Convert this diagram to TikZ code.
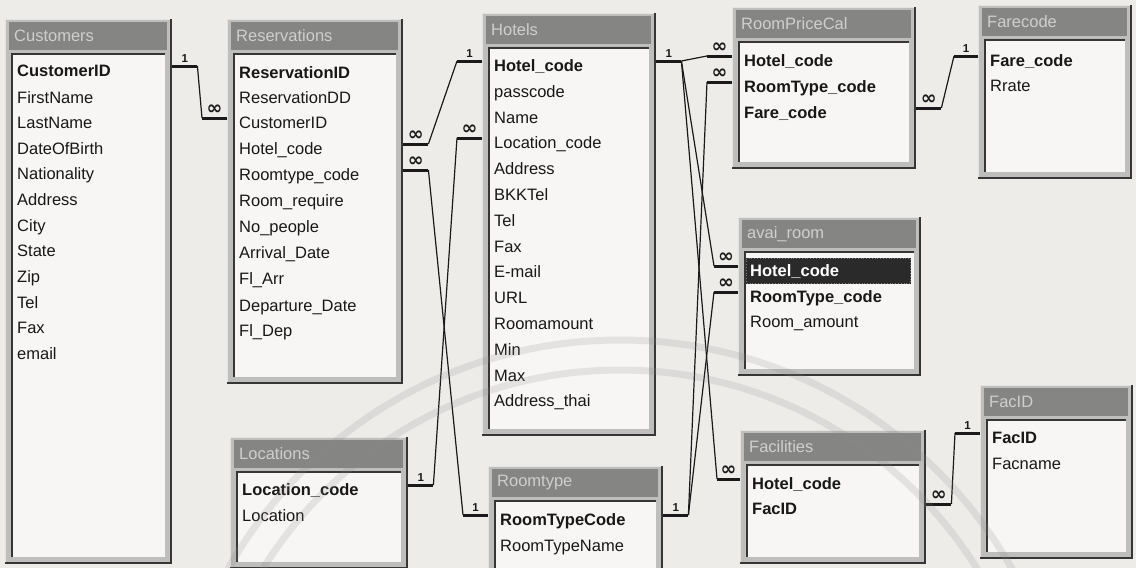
\documentclass[tikz,border=0pt]{standalone}
\usepackage{fontspec}
\setmainfont{Liberation Sans}
\newfontfamily\symfont{DejaVu Sans}
\usetikzlibrary{calc}
\definecolor{bg}{HTML}{EDECE9}
\definecolor{framegray}{HTML}{BEBEBC}
\definecolor{framedark}{HTML}{363636}
\definecolor{framelight}{HTML}{E4E4E2}
\definecolor{titlegray}{HTML}{858583}
\definecolor{ttltxt}{HTML}{CFCFCD}
\definecolor{cell}{HTML}{F7F6F4}
\definecolor{txt}{HTML}{181818}
\definecolor{linec}{HTML}{1A1A1A}
\definecolor{hilite}{HTML}{2A2A2A}
\definecolor{wmark}{HTML}{8C8C8C}
\tikzset{
  rowtext/.style={anchor=base west, inner sep=0pt, text=txt, font=\fontsize{16.5}{18}\selectfont},
  keytext/.style={anchor=base west, inner sep=0pt, text=txt, font=\fontsize{16.5}{18}\selectfont\bfseries},
  ttl/.style={anchor=west, inner sep=0pt, text=ttltxt, font=\fontsize{16.5}{18}\selectfont},
  stub/.style={draw=linec, line width=3pt},
  link/.style={draw=linec, line width=1.2pt},
  one/.style={midway, above=2pt, inner sep=0pt, text=linec, font=\fontsize{11.5}{11.5}\selectfont\bfseries},
  many/.style={midway, above=2pt, inner sep=0pt, text=linec, font=\symfont\fontsize{19}{19}\selectfont\bfseries},
  wm/.style={draw=wmark, line width=7pt, opacity=0.18},
}
% id, x1, y1, x2, y2, title
\newcommand{\dbtable}[6]{%
  \fill[framegray] (#2,#3) rectangle (#4,#5);
  \draw[framelight, line width=1pt] (#2+0.5,#5-2) -- (#2+0.5,#3+0.5) -- (#4-2,#3+0.5);
  \draw[framedark, line width=2.4pt] (#2,#5-1.2) -- (#4-1.2,#5-1.2) -- (#4-1.2,#3);
  \fill[titlegray] (#2+4,#3+3) rectangle (#4-5,#3+31);
  \node[ttl] (#1-title) at (#2+9,#3+17) {#6};
  \fill[cell] (#2+6,#3+34) rectangle (#4-7,#5-7);
  \draw[framedark, line width=1.5pt] (#2+6.75,#5-7) -- (#2+6.75,#3+34.75) -- (#4-7,#3+34.75);
  \node[inner sep=0pt, minimum width={(#4-#2)*1pt}, minimum height={(#5-#3)*1pt}, anchor=north west] (#1) at (#2,#3) {};
}
\begin{document}
\begin{tikzpicture}[x=1pt,y=-1pt]
\useasboundingbox (0,0) rectangle (1136,568);
\clip (0,0) rectangle (1136,568);
\fill[bg] (0,0) rectangle (1136,568);

% ---------- tables ----------
\dbtable{cust}{5}{19}{172}{564}{Customers}
\node[keytext]  (cust-1)  at (17,76)  {CustomerID};
\node[rowtext]  (cust-2)  at (17,103) {FirstName};
\node[rowtext]  (cust-3)  at (17,128) {LastName};
\node[rowtext]  (cust-4)  at (17,154) {DateOfBirth};
\node[rowtext]  (cust-5)  at (17,179) {Nationality};
\node[rowtext]  (cust-6)  at (17,205) {Address};
\node[rowtext]  (cust-7)  at (17,231) {City};
\node[rowtext]  (cust-8)  at (17,256) {State};
\node[rowtext]  (cust-9)  at (17,282) {Zip};
\node[rowtext]  (cust-10) at (17,308) {Tel};
\node[rowtext]  (cust-11) at (17,333) {Fax};
\node[rowtext]  (cust-12) at (17,359) {email};

\dbtable{res}{227}{19}{403}{384}{Reservations}
\node[keytext]  (res-1)  at (239,78)  {ReservationID};
\node[rowtext]  (res-2)  at (239,103) {ReservationDD};
\node[rowtext]  (res-3)  at (239,128) {CustomerID};
\node[rowtext]  (res-4)  at (239,154) {Hotel\_code};
\node[rowtext]  (res-5)  at (239,180) {Roomtype\_code};
\node[rowtext]  (res-6)  at (239,206) {Room\_require};
\node[rowtext]  (res-7)  at (239,232) {No\_people};
\node[rowtext]  (res-8)  at (239,258) {Arrival\_Date};
\node[rowtext]  (res-9)  at (239,284) {Fl\_Arr};
\node[rowtext]  (res-10) at (239,311) {Departure\_Date};
\node[rowtext]  (res-11) at (239,336) {Fl\_Dep};

\dbtable{hot}{482}{13}{656}{436}{Hotels}
\node[keytext]  (hot-1)  at (494,71)  {Hotel\_code};
\node[rowtext]  (hot-2)  at (494,97)  {passcode};
\node[rowtext]  (hot-3)  at (494,123) {Name};
\node[rowtext]  (hot-4)  at (494,148) {Location\_code};
\node[rowtext]  (hot-5)  at (494,174) {Address};
\node[rowtext]  (hot-6)  at (494,200) {BKKTel};
\node[rowtext]  (hot-7)  at (494,226) {Tel};
\node[rowtext]  (hot-8)  at (494,252) {Fax};
\node[rowtext]  (hot-9)  at (494,277) {E-mail};
\node[rowtext]  (hot-10) at (494,303) {URL};
\node[rowtext]  (hot-11) at (494,329) {Roomamount};
\node[rowtext]  (hot-12) at (494,355) {Min};
\node[rowtext]  (hot-13) at (494,381) {Max};
\node[rowtext]  (hot-14) at (494,406) {Address\_thai};

\dbtable{rpc}{732}{7}{916}{169}{RoomPriceCal}
\node[keytext]  (rpc-1) at (744,66)  {Hotel\_code};
\node[keytext]  (rpc-2) at (744,92)  {RoomType\_code};
\node[keytext]  (rpc-3) at (744,118) {Fare\_code};

\dbtable{fare}{978}{5}{1132}{179}{Farecode}
\node[keytext]  (fare-1) at (990,66) {Fare\_code};
\node[rowtext]  (fare-2) at (990,91) {Rrate};

\dbtable{avai}{738}{217}{921}{376}{avai\_room}
\fill[hilite] (746,258) rectangle (911,284);
\draw[gray, dotted, line width=0.8pt] (746.5,258.5) rectangle (910.5,283.5);
\node[keytext, text=white] (avai-1) at (750,276) {Hotel\_code};
\node[keytext]  (avai-2) at (750,302) {RoomType\_code};
\node[rowtext]  (avai-3) at (750,327) {Room\_amount};

\dbtable{loc}{230}{437}{408}{569}{Locations}
\node[keytext]  (loc-1) at (242,495) {Location\_code};
\node[rowtext]  (loc-2) at (242,521) {Location};

\dbtable{rt}{488}{466}{663}{580}{Roomtype}
\node[keytext]  (rt-1) at (500,525) {RoomTypeCode};
\node[rowtext]  (rt-2) at (500,551) {RoomTypeName};

\dbtable{fac}{740}{430}{926}{564}{Facilities}
\node[keytext]  (fac-1) at (752,489) {Hotel\_code};
\node[keytext]  (fac-2) at (752,514) {FacID};

\dbtable{facid}{980}{385}{1133}{559}{FacID}
\node[keytext]  (facid-1) at (992,443) {FacID};
\node[rowtext]  (facid-2) at (992,469) {Facname};

% ---------- attachment points ----------
\coordinate (custID)   at ($(cust.east |- cust-1.base)+(0,-10)$);
\coordinate (resCust)  at ($(res.west |- res-3.base)+(0,-10)$);
\coordinate (resHotel) at ($(res.east |- res-4.base)+(0,-10)$);
\coordinate (resRT)    at ($(res.east |- res-5.base)+(0,-10)$);
\coordinate (hotL)     at ($(hot.west |- hot-1.base)+(0,-10)$);
\coordinate (hotR)     at ($(hot.east |- hot-1.base)+(0,-10)$);
\coordinate (hotLoc)   at ($(hot.west |- hot-4.base)+(0,-10)$);
\coordinate (rpcHotel) at ($(rpc.west |- rpc-1.base)+(0,-10)$);
\coordinate (rpcRT)    at ($(rpc.west |- rpc-2.base)+(0,-10)$);
\coordinate (rpcFare)  at ($(rpc.east |- rpc-3.base)+(0,-10)$);
\coordinate (fareCode) at ($(fare.west |- fare-1.base)+(0,-10)$);
\coordinate (avaiHot)  at ($(avai.west |- avai-1.base)+(0,-10)$);
\coordinate (avaiRT)   at ($(avai.west |- avai-2.base)+(0,-10)$);
\coordinate (locCode)  at ($(loc.east |- loc-1.base)+(0,-10)$);
\coordinate (rtL)      at ($(rt.west |- rt-1.base)+(0,-10)$);
\coordinate (rtR)      at ($(rt.east |- rt-1.base)+(0,-10)$);
\coordinate (facHot)   at ($(fac.west |- fac-1.base)+(0,-10)$);
\coordinate (facFac)   at ($(fac.east |- fac-2.base)+(0,-10)$);
\coordinate (facidID)  at ($(facid.west |- facid-1.base)+(0,-10)$);

% ---------- stubs with cardinality ----------
\draw[stub] (custID)   -- node[one]{1}    ++(25,0)  coordinate (custIDs);
\draw[stub] (resCust)  -- node[many]{∞}   ++(-25,0) coordinate (resCusts);
\draw[stub] (resHotel) -- node[many]{∞}   ++(25,0)  coordinate (resHotels);
\draw[stub] (resRT)    -- node[many]{∞}   ++(25,0)  coordinate (resRTs);
\draw[stub] (hotL)     -- node[one]{1}    ++(-25,0) coordinate (hotLs);
\draw[stub] (hotR)     -- node[one]{1}    ++(25,0)  coordinate (hotRs);
\draw[stub] (hotLoc)   -- node[many]{∞}   ++(-25,0) coordinate (hotLocs);
\draw[stub] (rpcHotel) -- node[many]{∞}   ++(-25,0) coordinate (rpcHotels);
\draw[stub] (rpcRT)    -- node[many]{∞}   ++(-25,0) coordinate (rpcRTs);
\draw[stub] (rpcFare)  -- node[many]{∞}   ++(25,0)  coordinate (rpcFares);
\draw[stub] (fareCode) -- node[one]{1}    ++(-24,0) coordinate (fareCodes);
\draw[stub] (avaiHot)  -- node[many]{∞}   ++(-24,0) coordinate (avaiHots);
\draw[stub] (avaiRT)   -- node[many]{∞}   ++(-24,0) coordinate (avaiRTs);
\draw[stub] (locCode)  -- node[one]{1}    ++(25,0)  coordinate (locCodes);
\draw[stub] (rtL)      -- node[one]{1}    ++(-25,0) coordinate (rtLs);
\draw[stub] (rtR)      -- node[one]{1}    ++(25,0)  coordinate (rtRs);
\draw[stub] (facHot)   -- node[many]{∞}   ++(-23,0) coordinate (facHots);
\draw[stub] (facFac)   -- node[many]{∞}   ++(25,0)  coordinate (facFacs);
\draw[stub] (facidID)  -- node[one]{1}    ++(-25,0) coordinate (facidIDs);

% ---------- relationship lines ----------
\draw[link] (custIDs)   -- (resCusts);
\draw[link] (resHotels) -- (hotLs);
\draw[link] (resRTs)    -- (rtLs);
\draw[link] (hotLocs)   -- (locCodes);
\draw[link] (hotRs)     -- (rpcHotels);
\draw[link] (hotRs)     -- (avaiHots);
\draw[link] (hotRs)     -- (facHots);
\draw[link] (rtRs)      -- (rpcRTs);
\draw[link] (rtRs)      -- (avaiRTs);
\draw[link] (rpcFares)  -- (fareCodes);
\draw[link] (facFacs)   -- (facidIDs);

% ---------- faint watermark arcs ----------
\draw[wm] (620,790) circle[radius=450];
\draw[wm] (620,790) circle[radius=420];
\end{tikzpicture}
\end{document}
